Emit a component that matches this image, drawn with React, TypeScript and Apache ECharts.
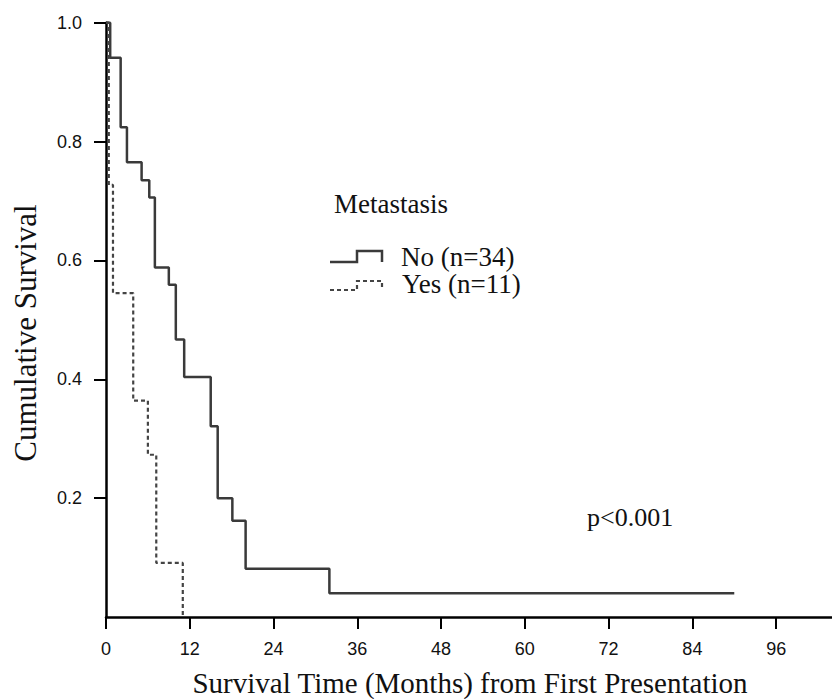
import React, { useEffect, useRef } from 'react';
import * as echarts from 'echarts';

// Kaplan-Meier step data (months, cumulative survival)
const monthsNo = [0, 0.6, 2.1, 3, 5.1, 6.2, 7, 9, 10, 11.2, 15, 16, 18.1, 20, 32, 90];
const survivalNo = [1, 0.941, 0.824, 0.765, 0.735, 0.706, 0.588, 0.559, 0.467, 0.404, 0.321, 0.2, 0.162, 0.081, 0.04, 0.04];

const monthsYes = [0, 0.4, 1, 3.9, 6, 7.2, 11];
const survivalYes = [1, 0.727, 0.545, 0.364, 0.273, 0.091, 0];

const xTicks = [0, 12, 24, 36, 48, 60, 72, 84, 96];
const yTicks = [0.2, 0.4, 0.6, 0.8, 1.0];

const legendTitle = 'Metastasis';
const seriesNames = ['No (n=34)', 'Yes (n=11)'];
const pText = 'p<0.001';
const xTitle = 'Survival Time (Months) from First Presentation';
const yTitle = 'Cumulative Survival';

export default function App() {
  const ref = useRef<HTMLDivElement>(null);
  useEffect(() => {
    const chart = echarts.init(ref.current!, null, { renderer: 'svg' });
    const serif = '"Liberation Serif", "Times New Roman", serif';
    const sans = '"Liberation Sans", Arial, sans-serif';
    const curveColor = '#3a3a3a';
    chart.setOption({
      animation: false,
      backgroundColor: '#fff',
      grid: { left: 106, top: 22.7, right: 0, bottom: 82 },
      xAxis: {
        type: 'value',
        min: 0,
        max: 104,
        axisLine: { show: true, onZero: false, lineStyle: { color: '#000', width: 2.5 } },
        axisTick: { show: true, customValues: xTicks, length: 12, lineStyle: { color: '#000', width: 2 } },
        axisLabel: { customValues: xTicks, margin: 23, fontFamily: sans, fontSize: 18, color: '#111' },
        splitLine: { show: false },
      },
      yAxis: {
        type: 'value',
        min: 0,
        max: 1,
        axisLine: { show: true, onZero: false, lineStyle: { color: '#000', width: 2.5 } },
        axisTick: { show: true, customValues: yTicks, length: 12, lineStyle: { color: '#000', width: 2 } },
        axisLabel: {
          customValues: yTicks,
          margin: 24,
          fontFamily: sans,
          fontSize: 18,
          color: '#111',
          formatter: (v: number) => v.toFixed(1),
        },
        splitLine: { show: false },
      },
      series: [
        {
          name: seriesNames[0],
          type: 'line',
          step: 'end',
          symbol: 'none',
          clip: false,
          data: monthsNo.map((m, i) => [m, survivalNo[i]]),
          lineStyle: { color: curveColor, width: 2.5 },
          z: 3,
        },
        {
          name: seriesNames[1],
          type: 'line',
          step: 'end',
          symbol: 'none',
          clip: false,
          data: monthsYes.map((m, i) => [m, survivalYes[i]]),
          lineStyle: { color: '#444', width: 2.2, type: [4, 3] },
          z: 3,
        },
      ],
      graphic: [
        {
          type: 'text',
          x: 470,
          y: 683,
          style: { text: xTitle, font: `29px ${serif}`, fill: '#111', textAlign: 'center', textVerticalAlign: 'middle' },
        },
        {
          type: 'text',
          x: 25,
          y: 333,
          rotation: Math.PI / 2,
          style: { text: yTitle, font: `31px ${serif}`, fill: '#111', textAlign: 'center', textVerticalAlign: 'middle' },
        },
        {
          type: 'text',
          x: 334,
          y: 204,
          style: { text: legendTitle, font: `27px ${serif}`, fill: '#111', textAlign: 'left', textVerticalAlign: 'middle' },
        },
        {
          type: 'text',
          x: 401,
          y: 257,
          style: { text: seriesNames[0], font: `27px ${serif}`, fill: '#111', textAlign: 'left', textVerticalAlign: 'middle' },
        },
        {
          type: 'text',
          x: 402,
          y: 284,
          style: { text: seriesNames[1], font: `27px ${serif}`, fill: '#111', textAlign: 'left', textVerticalAlign: 'middle' },
        },
        {
          type: 'polyline',
          shape: { points: [[330, 262], [357, 262], [357, 251], [382, 251], [382, 262]] },
          style: { stroke: curveColor, lineWidth: 2.5, fill: null },
        },
        {
          type: 'polyline',
          shape: { points: [[330, 290], [357, 290], [357, 281], [382, 281], [382, 289]] },
          style: { stroke: '#444', lineWidth: 2.2, fill: null, lineDash: [4, 3] },
        },
        {
          type: 'text',
          x: 587,
          y: 517,
          style: { text: pText, font: `26px ${serif}`, fill: '#111', textAlign: 'left', textVerticalAlign: 'middle' },
        },
      ],
    });
    return () => chart.dispose();
  }, []);
  return (
    <div
      ref={ref}
      style={{ position: 'fixed', left: 0, top: 0, width: 832, height: 699, background: '#fff' }}
    />
  );
}
